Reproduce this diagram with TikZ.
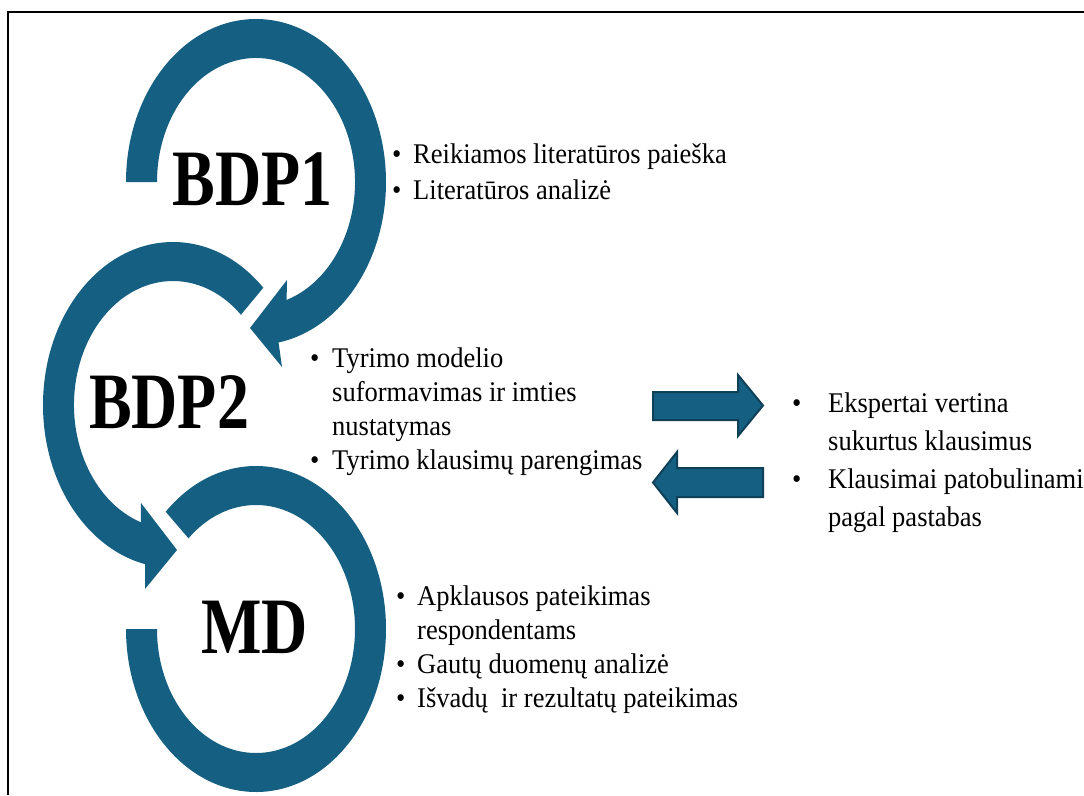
\documentclass[tikz,border=0pt]{standalone}
\usepackage{fontspec}
\setmainfont{Liberation Serif}
\newfontfamily\bodyfont[FakeStretch=0.93]{Liberation Serif}
\newfontfamily\bigfont[FakeStretch=0.8]{Liberation Serif}
\usetikzlibrary{calc}
\definecolor{ring}{HTML}{156082}
\definecolor{ringdark}{HTML}{0E4057}
\newcommand{\bul}[1]{\makebox[#1pt][l]{\textbullet}}
\newcommand{\ind}[1]{\hspace*{#1pt}}
\tikzset{
  ringfill/.style={fill=ring},
  blockarrow/.style={fill=ring,draw=ringdark,line width=2pt,line join=miter},
  biglabel/.style={font={\bigfont\bfseries\fontsize{80}{80}\selectfont},anchor=base,inner sep=0pt},
  bodytext/.style={anchor=base west,inner sep=0pt},
  frame/.style={line width=2pt,draw=black}
}
\begin{document}
\begin{tikzpicture}[x=1pt,y=-1pt]
\useasboundingbox (0,0) rectangle (1084,795);
\fill[white] (0,0) rectangle (1084,795);
\draw[frame] (7.5,795) -- (7.5,12) -- (1084,12);

\coordinate (c1) at (256,182);
\coordinate (c2) at (173,405);
\coordinate (c3) at (256,629);

% BDP1 ring with arrowhead
\fill[ringfill] ($(c1)+(180:130 and 163)$) arc[start angle=180,end angle=440,x radius=130,y radius=163]
  -- (282,367) -- (250,328) -- (287,280)
  -- ($(c1)+(432:99 and 124)$) arc[start angle=432,end angle=180,x radius=99,y radius=124] -- cycle;

% BDP2 ring with arrowhead
\fill[ringfill] ($(c2)+(-46:130 and 163)$) arc[start angle=-46,end angle=-257.6,x radius=130,y radius=163]
  -- (145,589) -- (177,550) -- (141,503)
  -- ($(c2)+(-251:99 and 124)$) arc[start angle=-251,end angle=-46.7,x radius=99,y radius=124] -- cycle;

% MD ring
\fill[ringfill] ($(c3)+(-134:130 and 163)$) arc[start angle=-134,end angle=180,x radius=130,y radius=163]
  -- ($(c3)+(180:99 and 124)$) arc[start angle=180,end angle=-133,x radius=99,y radius=124] -- cycle;

% labels
\node[biglabel] (bdp1) at (252.5,205) {BDP1};
\node[biglabel] (bdp2) at (169,428) {BDP2};
\node[biglabel] (md) at (254.5,653) {MD};

% text blocks
\node[bodytext] (t1) at (392,163) {\bodyfont\fontsize{28.5}{36}\selectfont
  \begin{tabular}[t]{@{}l@{}}
  \bul{21}Reikiamos literatūros paieška\\
  \bul{21}Literatūros analizė
  \end{tabular}};

\node[bodytext] (t2) at (310,367) {\bodyfont\fontsize{28.5}{34.3}\selectfont
  \begin{tabular}[t]{@{}l@{}}
  \bul{22}Tyrimo modelio\\
  \ind{22}suformavimas ir imties\\
  \ind{22}nustatymas\\
  \bul{22}Tyrimo klausimų parengimas
  \end{tabular}};

\node[bodytext] (t3) at (792,412) {\bodyfont\fontsize{28.5}{38.3}\selectfont
  \begin{tabular}[t]{@{}l@{}}
  \bul{36}Ekspertai vertina\\
  \ind{36}sukurtus klausimus\\
  \bul{36}Klausimai patobulinami\\
  \ind{36}pagal pastabas
  \end{tabular}};

\node[bodytext] (t4) at (396,605) {\bodyfont\fontsize{28.5}{34}\selectfont
  \begin{tabular}[t]{@{}l@{}}
  \bul{21}Apklausos pateikimas\\
  \ind{21}respondentams\\
  \bul{21}Gautų duomenų analizė\\
  \bul{21}Išvadų\ \ ir rezultatų pateikimas
  \end{tabular}};

% block arrows
\draw[blockarrow] (653,392) -- (738,392) -- (738,375) -- (763,405.5) -- (738,436) -- (738,420) -- (653,420) -- cycle;
\draw[blockarrow] (763,468) -- (677,468) -- (677,452) -- (653,482.5) -- (677,513) -- (677,497) -- (763,497) -- cycle;
\end{tikzpicture}
\end{document}
